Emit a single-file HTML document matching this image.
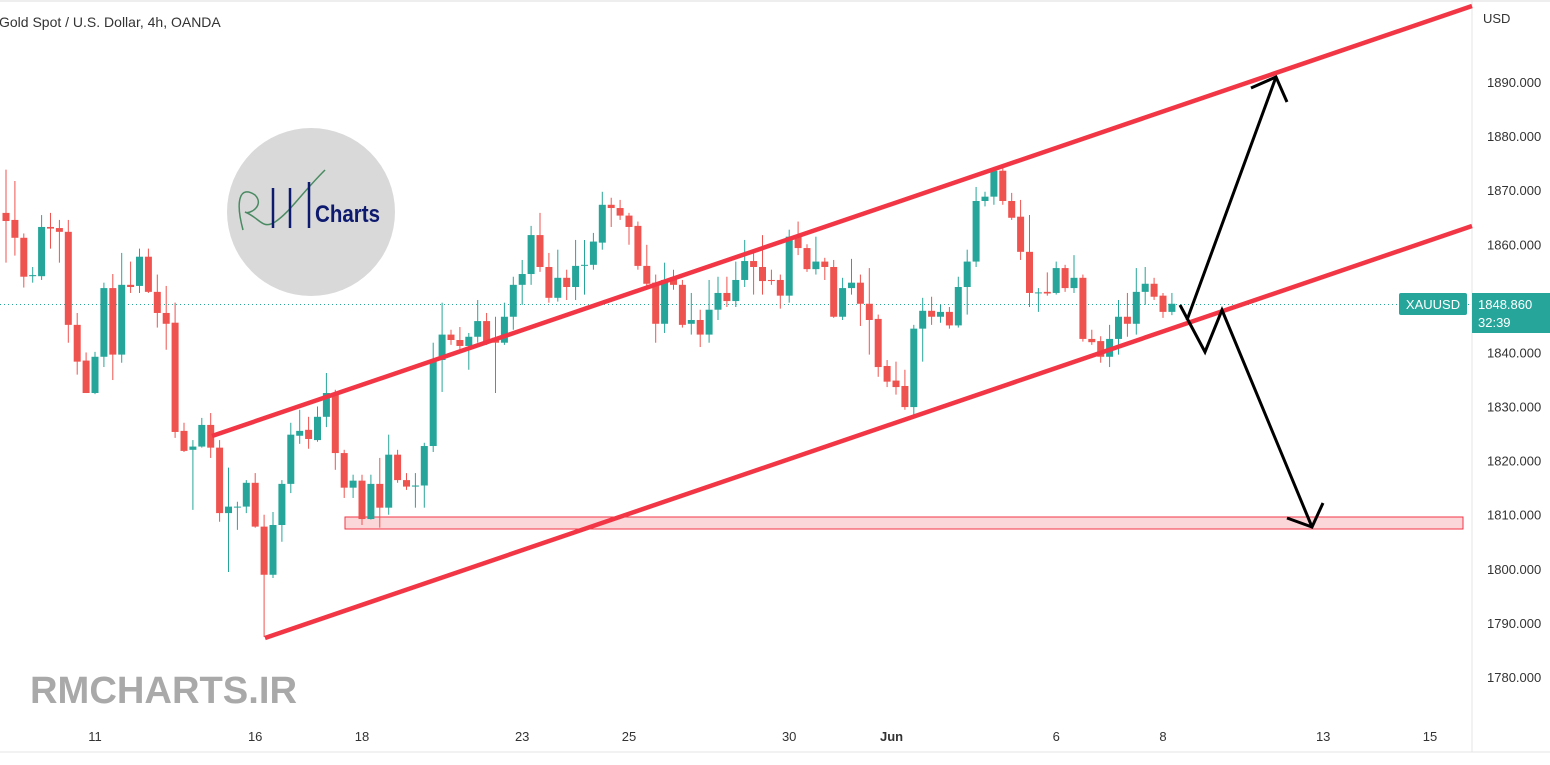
<!DOCTYPE html>
<html><head><meta charset="utf-8">
<style>
html,body{margin:0;padding:0;background:#fff;width:1550px;height:765px;overflow:hidden;font-family:"Liberation Sans",sans-serif;}
svg text{font-family:"Liberation Sans",sans-serif;}
</style></head>
<body>
<svg id="chart" width="1550" height="765" xmlns="http://www.w3.org/2000/svg">
  <line x1="0" y1="1" x2="1550" y2="1" stroke="#eee" stroke-width="2"/>
  <line x1="1472" y1="0" x2="1472" y2="752" stroke="#e6e6e6"/>
  <line x1="0" y1="752" x2="1550" y2="752" stroke="#e6e6e6"/>
  <text x="-1" y="27" font-size="14" fill="#333">Gold Spot / U.S. Dollar, 4h, OANDA</text>
  <text x="1483" y="23" font-size="13" fill="#333">USD</text>
  <g>
    <circle cx="311" cy="212" r="84" fill="#d9d9d9"/>
    <path d="M243,230 C235,200 240,185 255,195 C265,205 250,215 245,212 C260,218 262,230 275,222 C290,212 300,195 325,170" stroke="#4a8a63" stroke-width="1.5" fill="none"/>
    <line x1="273" y1="188" x2="273" y2="228" stroke="#0e1a6e" stroke-width="2.5"/>
    <line x1="290" y1="188" x2="290" y2="228" stroke="#0e1a6e" stroke-width="2.5"/>
    <line x1="309" y1="182" x2="309" y2="228" stroke="#0e1a6e" stroke-width="2.5"/>
    <text x="315" y="222" font-size="24" font-weight="bold" fill="#0e1a6e" textLength="65" lengthAdjust="spacingAndGlyphs">Charts</text>
  </g>
  <text x="30" y="703" font-size="38" font-weight="bold" fill="#a9a9a9" textLength="267" lengthAdjust="spacingAndGlyphs">RMCHARTS.IR</text>
  <g id="yaxis"></g>
  <g id="xaxis"></g>
  <line id="lastline" x1="0" x2="1472" stroke="#26a69a" stroke-dasharray="1,3" stroke-width="1"/>
  <rect x="345" y="517" width="1118" height="12" fill="rgba(242,54,69,0.2)" stroke="#f23645" stroke-width="1"/>
  <g id="candles"></g>
  <line x1="212" y1="436" x2="1472" y2="6" stroke="#f23645" stroke-width="4.5"/>
  <line x1="265" y1="638" x2="1472" y2="226" stroke="#f23645" stroke-width="4.5"/>
  <g stroke="#000" stroke-width="3" fill="none">
    <line x1="1187" y1="320" x2="1276" y2="77"/>
    <polyline points="1251,88 1276,77 1287,102"/>
  </g>
  <g stroke="#000" stroke-width="3" fill="none" stroke-linejoin="miter">
    <polyline points="1180,305 1205,352 1222,310 1312,527"/>
    <polyline points="1287,518 1312,527 1323,503"/>
  </g>
  <g>
    <rect x="1399" y="293" width="68" height="22" rx="2" fill="#26a69a"/>
    <text x="1433" y="309" font-size="13" fill="#fff" text-anchor="middle">XAUUSD</text>
    <rect x="1472" y="293" width="78" height="40" fill="#26a69a"/>
    <text id="lastlabel" x="1478" y="309" font-size="13" fill="#fff">1848.860</text>
    <text x="1478" y="327" font-size="13" fill="#fff">32:39</text>
  </g>
</svg>
<script>
const priceTicks=[1890,1880,1870,1860,1850,1840,1830,1820,1810,1800,1790,1780];
const dateLabels=["11","16","18","23","25","30","Jun","6","8","13","15"];
const dateIndex=[10,28,40,58,70,88,99.5,118,130,148,160];
const lastPrice=1848.86;
const opens=[1865.8,1864.5,1861.2,1854.1,1854.1,1863.2,1863.0,1862.3,1845.1,1838.5,1832.5,1839.2,1851.9,1839.6,1852.5,1852.3,1857.7,1851.2,1847.3,1845.5,1825.5,1822.0,1822.6,1826.6,1822.4,1810.3,1811.4,1811.5,1815.9,1807.8,1798.9,1808.1,1815.7,1824.6,1825.7,1823.8,1828.1,1832.5,1821.4,1815.0,1816.3,1809.2,1815.7,1811.3,1821.1,1816.4,1815.2,1815.4,1822.7,1838.6,1843.3,1842.3,1841.2,1842.9,1845.8,1842.7,1841.8,1846.6,1852.5,1854.5,1861.7,1855.8,1850.1,1853.8,1852.1,1856.1,1856.2,1860.3,1867.3,1866.7,1865.3,1863.4,1856.0,1852.9,1845.3,1853.9,1852.5,1845.3,1846.0,1843.3,1847.9,1851.0,1849.5,1853.4,1856.9,1855.8,1853.4,1853.4,1850.5,1861.4,1859.3,1855.4,1856.8,1855.8,1846.6,1851.9,1852.9,1849.0,1846.2,1837.5,1834.8,1833.8,1829.9,1844.4,1847.7,1846.6,1847.5,1845.0,1852.1,1856.8,1868.0,1868.8,1873.6,1868.0,1865.1,1858.6,1851.0,1851.2,1851.0,1855.6,1851.9,1853.8,1842.5,1842.1,1839.2,1842.5,1846.6,1845.3,1851.2,1852.7,1850.5,1847.5];
const closes=[1864.3,1861.2,1854.0,1854.3,1863.2,1862.9,1862.3,1845.1,1838.3,1832.5,1839.2,1851.9,1839.6,1852.5,1852.1,1857.7,1851.2,1847.3,1845.3,1825.3,1821.8,1822.6,1826.6,1822.4,1810.3,1811.5,1811.5,1815.9,1807.8,1798.9,1808.1,1815.7,1824.8,1825.5,1824.0,1828.1,1832.5,1821.4,1815.0,1816.3,1809.2,1815.7,1811.3,1821.1,1816.4,1815.2,1815.4,1822.7,1838.6,1843.3,1842.3,1841.2,1842.9,1845.8,1841.8,1841.8,1846.6,1852.5,1854.5,1861.7,1855.8,1850.1,1853.8,1852.1,1856.0,1856.2,1860.5,1867.3,1866.7,1865.3,1863.2,1856.0,1852.7,1845.3,1853.4,1852.5,1845.1,1846.0,1843.3,1847.9,1851.0,1849.5,1853.4,1856.9,1855.8,1853.2,1853.2,1850.5,1861.4,1859.3,1855.4,1856.8,1855.8,1846.6,1851.9,1852.9,1849.0,1846.0,1837.3,1834.6,1833.6,1829.9,1844.4,1847.7,1846.6,1847.5,1845.0,1852.1,1856.8,1868.0,1868.8,1873.6,1868.0,1864.9,1858.6,1851.0,1851.1,1850.9,1855.6,1851.9,1853.8,1842.5,1841.9,1839.2,1842.5,1846.6,1845.3,1851.2,1852.7,1850.3,1847.5,1849.0];
const highs=[1873.8,1871.7,1862,1855.8,1865.4,1865.8,1864.5,1864.5,1847.3,1840,1840.1,1852.9,1854.5,1858.4,1856.8,1859.2,1859.2,1854.4,1852.3,1849.2,1827,1823.8,1827.9,1828.8,1823.8,1818.7,1812.4,1816.4,1817.7,1810.0,1810.5,1816.4,1827.0,1829.4,1828.1,1830.0,1836.2,1833.1,1822.0,1817.4,1817.4,1817.4,1820.5,1824.8,1822.0,1817.7,1817.7,1823.3,1841.8,1849.2,1844.2,1844.7,1843.6,1849.7,1847.3,1846.6,1849.2,1854.0,1857.1,1863.4,1865.8,1858.4,1859.0,1855.3,1860.8,1860.8,1862.1,1869.7,1868.6,1868.2,1865.8,1864.2,1859.9,1854.4,1856.6,1855.3,1853.4,1851.0,1847.9,1853.4,1854.0,1854.0,1856.8,1860.8,1858.6,1861.7,1855.3,1854.4,1862.7,1864.2,1860,1861.4,1857.5,1857.1,1853.8,1857.3,1854.4,1855.6,1847,1838.6,1838.3,1836.8,1845.1,1850.1,1850.3,1848.8,1848.4,1854.0,1859.0,1870.6,1869.7,1874.3,1874.1,1869.5,1868.2,1865.4,1851.9,1854.8,1856.8,1856.2,1858.0,1854.4,1844.2,1843,1845.1,1849.7,1851.0,1855.6,1855.8,1853.8,1851,1851.0];
const lows=[1856.6,1857.9,1852.0,1852.9,1853.4,1859.2,1856.6,1841.8,1835.9,1832.5,1832.3,1837.3,1834.9,1838.1,1851.0,1851.0,1851.0,1844.6,1840.5,1824.2,1821.6,1810.9,1822.4,1820.5,1808.7,1799.4,1807.2,1810.3,1807.6,1787.4,1798.3,1805.0,1814.0,1823.1,1822.2,1823.5,1826.2,1818.3,1813.1,1813.1,1808.1,1809.1,1807.6,1810.0,1815.9,1814.6,1811.3,1811.3,1821.6,1832.7,1841.4,1840.5,1836.8,1841.8,1841.4,1832.5,1841.4,1844.2,1848.8,1852.5,1854.9,1849.2,1849.4,1849.7,1849.7,1850.7,1855.3,1859.0,1863.2,1864.5,1859.9,1855.3,1851.6,1841.8,1843.6,1851.6,1844.6,1843.3,1841.0,1841.8,1846.0,1848.4,1848.4,1852.1,1850.7,1850.7,1852.5,1848.1,1849.2,1858.0,1854.9,1854.4,1853.4,1846.4,1846.0,1850.7,1844.9,1839.6,1835.5,1833.6,1832.2,1829.4,1828.5,1838.3,1845.1,1845.5,1844.4,1844.6,1847.0,1855.8,1867.0,1867.3,1867.3,1864.5,1857.1,1848.4,1847.5,1850.5,1850.7,1851.2,1851.0,1842,1841.4,1838.1,1837.3,1839.6,1842.9,1843.3,1848.8,1849.7,1846.4,1846.9];

const NS="http://www.w3.org/2000/svg";
function yScale(p){return 82+(1890-p)*5.409;}
function xScale(i){return 6+i*8.9;}
function mk(tag,attrs,parent){const e=document.createElementNS(NS,tag);for(const k in attrs)e.setAttribute(k,attrs[k]);parent.appendChild(e);return e;}

const ya=document.getElementById('yaxis');
priceTicks.forEach(p=>{
  const t=mk('text',{x:1487,y:yScale(p)+5,'font-size':13,fill:'#333'},ya);
  
  
  t.textContent=p.toFixed(3);
});
const xa=document.getElementById('xaxis');
dateLabels.forEach((d,k)=>{
  const t=mk('text',{x:xScale(dateIndex[k]),y:741,'font-size':13,fill:'#333','text-anchor':'middle'},xa);
  if(d==='Jun')t.setAttribute('font-weight','bold');
  
  
  t.textContent=d;
});
const ll=document.getElementById('lastline');
ll.setAttribute('y1',yScale(lastPrice));ll.setAttribute('y2',yScale(lastPrice));

const cg=document.getElementById('candles');
for(let i=0;i<opens.length;i++){
  const up=closes[i]>=opens[i];
  const col=up?'#26a69a':'#ef5350';
  const g=mk('g',{},cg);
  
  
  const x=xScale(i);
  mk('line',{x1:x,x2:x,y1:yScale(highs[i]),y2:yScale(lows[i]),stroke:col,'stroke-width':1},g);
  const top=yScale(Math.max(opens[i],closes[i])),bot=yScale(Math.min(opens[i],closes[i]));
  mk('rect',{x:x-3.5,y:top,width:7,height:Math.max(1,bot-top),fill:col},g);
}
</script>
</body></html>
